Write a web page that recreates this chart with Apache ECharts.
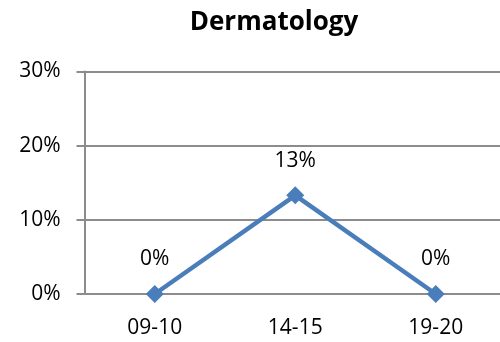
<!DOCTYPE html>
<html><head><meta charset="utf-8">
<script src="https://cdn.jsdelivr.net/npm/echarts@6/dist/echarts.min.js"></script>
<style>html,body{margin:0;padding:0;background:#fff}#c{width:500px;height:342px}</style>
</head><body><div id="c"></div>
<script>
const categories = ['09-10', '14-15', '19-20'];
const values = [0, 13.3, 0];
const yTicks = [0, 10, 20, 30];
const chart = echarts.init(document.getElementById('c'), null, {renderer: 'canvas'});
const font = '"Open Sans", "Liberation Sans", sans-serif';
chart.setOption({
  animation: false,
  title: {text: 'Dermatology', left: 269, top: 5, textAlign: 'center',
    textStyle: {fontFamily: font, fontWeight: 'bold', fontSize: 26, color: '#000'}},
  grid: {left: 84.5, width: 421.5, top: 71.5, bottom: 48, outerBoundsMode: 'none', containLabel: false},
  xAxis: {type: 'category', data: categories, boundaryGap: true,
    axisLine: {show: false}, axisTick: {show: false},
    axisLabel: {fontFamily: font, fontSize: 21, color: '#000', margin: 24}},
  yAxis: {type: 'value', min: 0, max: 30, interval: 10,
    axisLine: {show: true, lineStyle: {color: '#8c8c8c', width: 2}},
    axisTick: {show: true, length: 8, lineStyle: {color: '#8c8c8c', width: 2}},
    splitLine: {lineStyle: {color: '#8c8c8c', width: 2}},
    axisLabel: {fontFamily: font, fontSize: 21, color: '#000', margin: 24,
      formatter: v => v + '%'}},
  series: [{type: 'line', data: values, symbol: 'diamond', symbolSize: 18,
    lineStyle: {color: '#4a7ebb', width: 4.5},
    itemStyle: {color: '#4a7ebb'},
    label: {show: true, position: 'top', distance: 15, fontFamily: font, fontSize: 21, color: '#000',
      formatter: p => Math.round(p.value) + '%'}}]
});
</script></body></html>
